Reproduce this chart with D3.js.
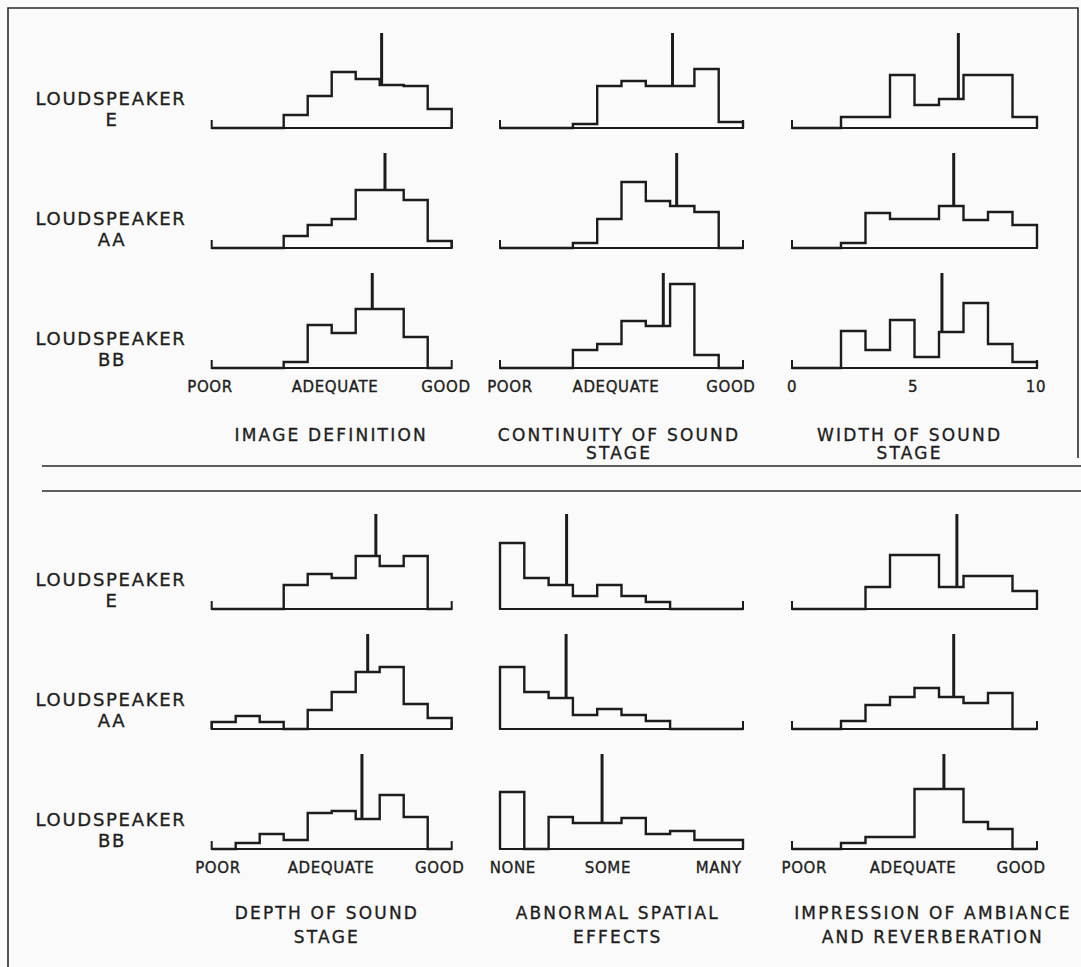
<!DOCTYPE html>
<html lang="en">
<head>
<meta charset="UTF-8">
<script src="https://cdn.jsdelivr.net/npm/d3@7"></script>
<style>
  body { margin: 0; background: #fafafa; }
  svg { display: block; }
  text { font-family: "DejaVu Sans", sans-serif; fill: #1e1e1e; stroke: #1e1e1e; stroke-width: 0.35px; }
  .spk { font-size: 18px; letter-spacing: 1.7px; }
  .tick { font-size: 15px; letter-spacing: 0.6px; }
  .title { font-size: 17px; letter-spacing: 2.2px; }
  .hist { fill: none; stroke: #1c1c1c; stroke-width: 2.4; }
  .base { fill: none; stroke: #1c1c1c; stroke-width: 2; }
  .mean { stroke: #1c1c1c; stroke-width: 3; }
  .rule { stroke: #2a2a2a; stroke-width: 1.6; fill: none; }
</style>
</head>
<body>
<svg width="1081" height="967"></svg>
<script>
// listeners' ratings, 10 bins per scale, one row per loudspeaker
var speakers = ["E", "AA", "BB"];

var imageDefinition = [
  [0, 0, 0, 13, 32, 56, 49, 43, 42, 19],
  [0, 0, 0, 12, 23, 29, 58, 58, 48, 7],
  [0, 0, 0, 6, 43, 35, 59, 59, 31, 0]
];
var imageDefinitionMean = [7.08, 7.22, 6.69];

var continuity = [
  [0, 0, 0, 4, 42, 47, 42, 42, 59, 6],
  [0, 0, 0, 5, 29, 66, 47, 42, 36, 0],
  [0, 0, 0, 18, 24, 47, 42, 84, 13, 0]
];
var continuityMean = [7.1, 7.27, 6.72];

var widthStage = [
  [0, 0, 11, 11, 53, 23, 29, 53, 53, 11],
  [0, 0, 5, 35, 29, 29, 42, 28, 36, 23],
  [0, 0, 37, 18, 48, 11, 36, 65, 24, 6]
];
var widthStageMean = [6.79, 6.6, 6.12];

var depthStage = [
  [0, 0, 0, 24, 35, 31, 53, 43, 53, 0],
  [7, 13, 7, 0, 19, 37, 57, 62, 25, 11],
  [0, 6, 15, 9, 36, 38, 30, 54, 32, 0]
];
var depthStageMean = [6.84, 6.5, 6.26];

var abnormal = [
  [66, 31, 24, 13, 24, 13, 7, 0, 0, 0],
  [62, 37, 31, 14, 20, 14, 8, 0, 0, 0],
  [57, 0, 32, 26, 26, 31, 15, 18, 9, 9]
];
var abnormalMean = [2.74, 2.72, 4.2];

var ambiance = [
  [0, 0, 0, 22, 54, 54, 22, 33, 33, 18],
  [0, 0, 8, 24, 32, 41, 32, 26, 36, 0],
  [0, 0, 6, 12, 12, 60, 60, 27, 20, 0]
];
var ambianceMean = [6.73, 6.6, 6.2];

var titles = [
  ["IMAGE DEFINITION"],
  ["CONTINUITY OF SOUND", "STAGE"],
  ["WIDTH OF SOUND", "STAGE"],
  ["DEPTH OF SOUND", "STAGE"],
  ["ABNORMAL SPATIAL", "EFFECTS"],
  ["IMPRESSION OF AMBIANCE", "AND REVERBERATION"]
];
var tickLabels = [
  ["POOR", "ADEQUATE", "GOOD"],
  ["POOR", "ADEQUATE", "GOOD"],
  ["0", "5", "10"],
  ["POOR", "ADEQUATE", "GOOD"],
  ["NONE", "SOME", "MANY"],
  ["POOR", "ADEQUATE", "GOOD"]
];
var tickAt = [
  [-0.07, 5.14, 9.76],
  [0.41, 4.77, 9.5],
  [0, 4.94, 9.96],
  [0.26, 4.97, 9.5],
  [0.53, 4.44, 9.0],
  [0.5, 4.94, 9.35]
];
var titleAt = [4.98, 4.9, 4.8, 4.8, 4.85, 5.75];

var panels = [
  {counts: imageDefinition, means: imageDefinitionMean},
  {counts: continuity, means: continuityMean},
  {counts: widthStage, means: widthStageMean},
  {counts: depthStage, means: depthStageMean},
  {counts: abnormal, means: abnormalMean},
  {counts: ambiance, means: ambianceMean}
];

var svg = d3.select("svg");
var colX = [211.7, 500, 792],
    colW = [240, 243, 245],
    rowBase = [[128, 248, 368], [609, 729, 849]],
    meanTop = 95,
    titleGap = [18, 24];

// frame and separators
svg.append("path").attr("class", "rule").attr("stroke-width", 2)
  .attr("d", "M8,967V8H1078V458");
svg.append("line").attr("class", "rule").attr("x1", 42).attr("x2", 1081).attr("y1", 466).attr("y2", 466);
svg.append("line").attr("class", "rule").attr("x1", 42).attr("x2", 1081).attr("y1", 491).attr("y2", 491);

var y = d3.scaleLinear().domain([0, 100]).range([0, 100]);

panels.forEach(function(p, k) {
  var sec = Math.floor(k / 3), col = k % 3;
  var x = d3.scaleLinear().domain([0, 10]).range([colX[col], colX[col] + colW[col]]);
  var g = svg.append("g");

  p.counts.forEach(function(vals, r) {
    var base = rowBase[sec][r];
    var line = d3.line()
      .x(function(d) { return x(d[0]); })
      .y(function(d) { return base - y(d[1]); })
      .curve(d3.curveStepAfter);
    var pts = [[0, 0]].concat(vals.map(function(v, i) { return [i, v]; }), [[10, 0]]);

    g.append("path").attr("class", "base")
      .attr("d", "M" + x(0) + "," + (base - 8) + "V" + base + "H" + x(10) + "V" + (base - 8));
    g.append("path").attr("class", "hist").attr("d", line(pts));

    var m = p.means[r];
    g.append("line").attr("class", "mean")
      .attr("x1", x(m)).attr("x2", x(m))
      .attr("y1", base - y(meanTop))
      .attr("y2", base - y(vals[Math.floor(m)]));

    if (col === 0) {
      svg.append("text").attr("class", "spk").attr("text-anchor", "middle")
        .attr("x", 111).attr("y", base - 23.5).text("LOUDSPEAKER");
      svg.append("text").attr("class", "spk").attr("text-anchor", "middle")
        .attr("x", 112).attr("y", base - 2.5).text(speakers[r]);
    }
  });

  var last = rowBase[sec][2];
  g.selectAll(".tick").data(tickLabels[k]).enter().append("text")
    .attr("class", "tick").attr("text-anchor", "middle")
    .attr("x", function(d, i) { return x(tickAt[k][i]); })
    .attr("y", last + 24)
    .text(function(d) { return d; });

  g.selectAll(".title").data(titles[k]).enter().append("text")
    .attr("class", "title").attr("text-anchor", "middle")
    .attr("x", x(titleAt[k]))
    .attr("y", function(d, i) { return last + (sec === 0 ? 73 : 70) + i * titleGap[sec]; })
    .text(function(d) { return d; });
});
</script>
</body>
</html>
